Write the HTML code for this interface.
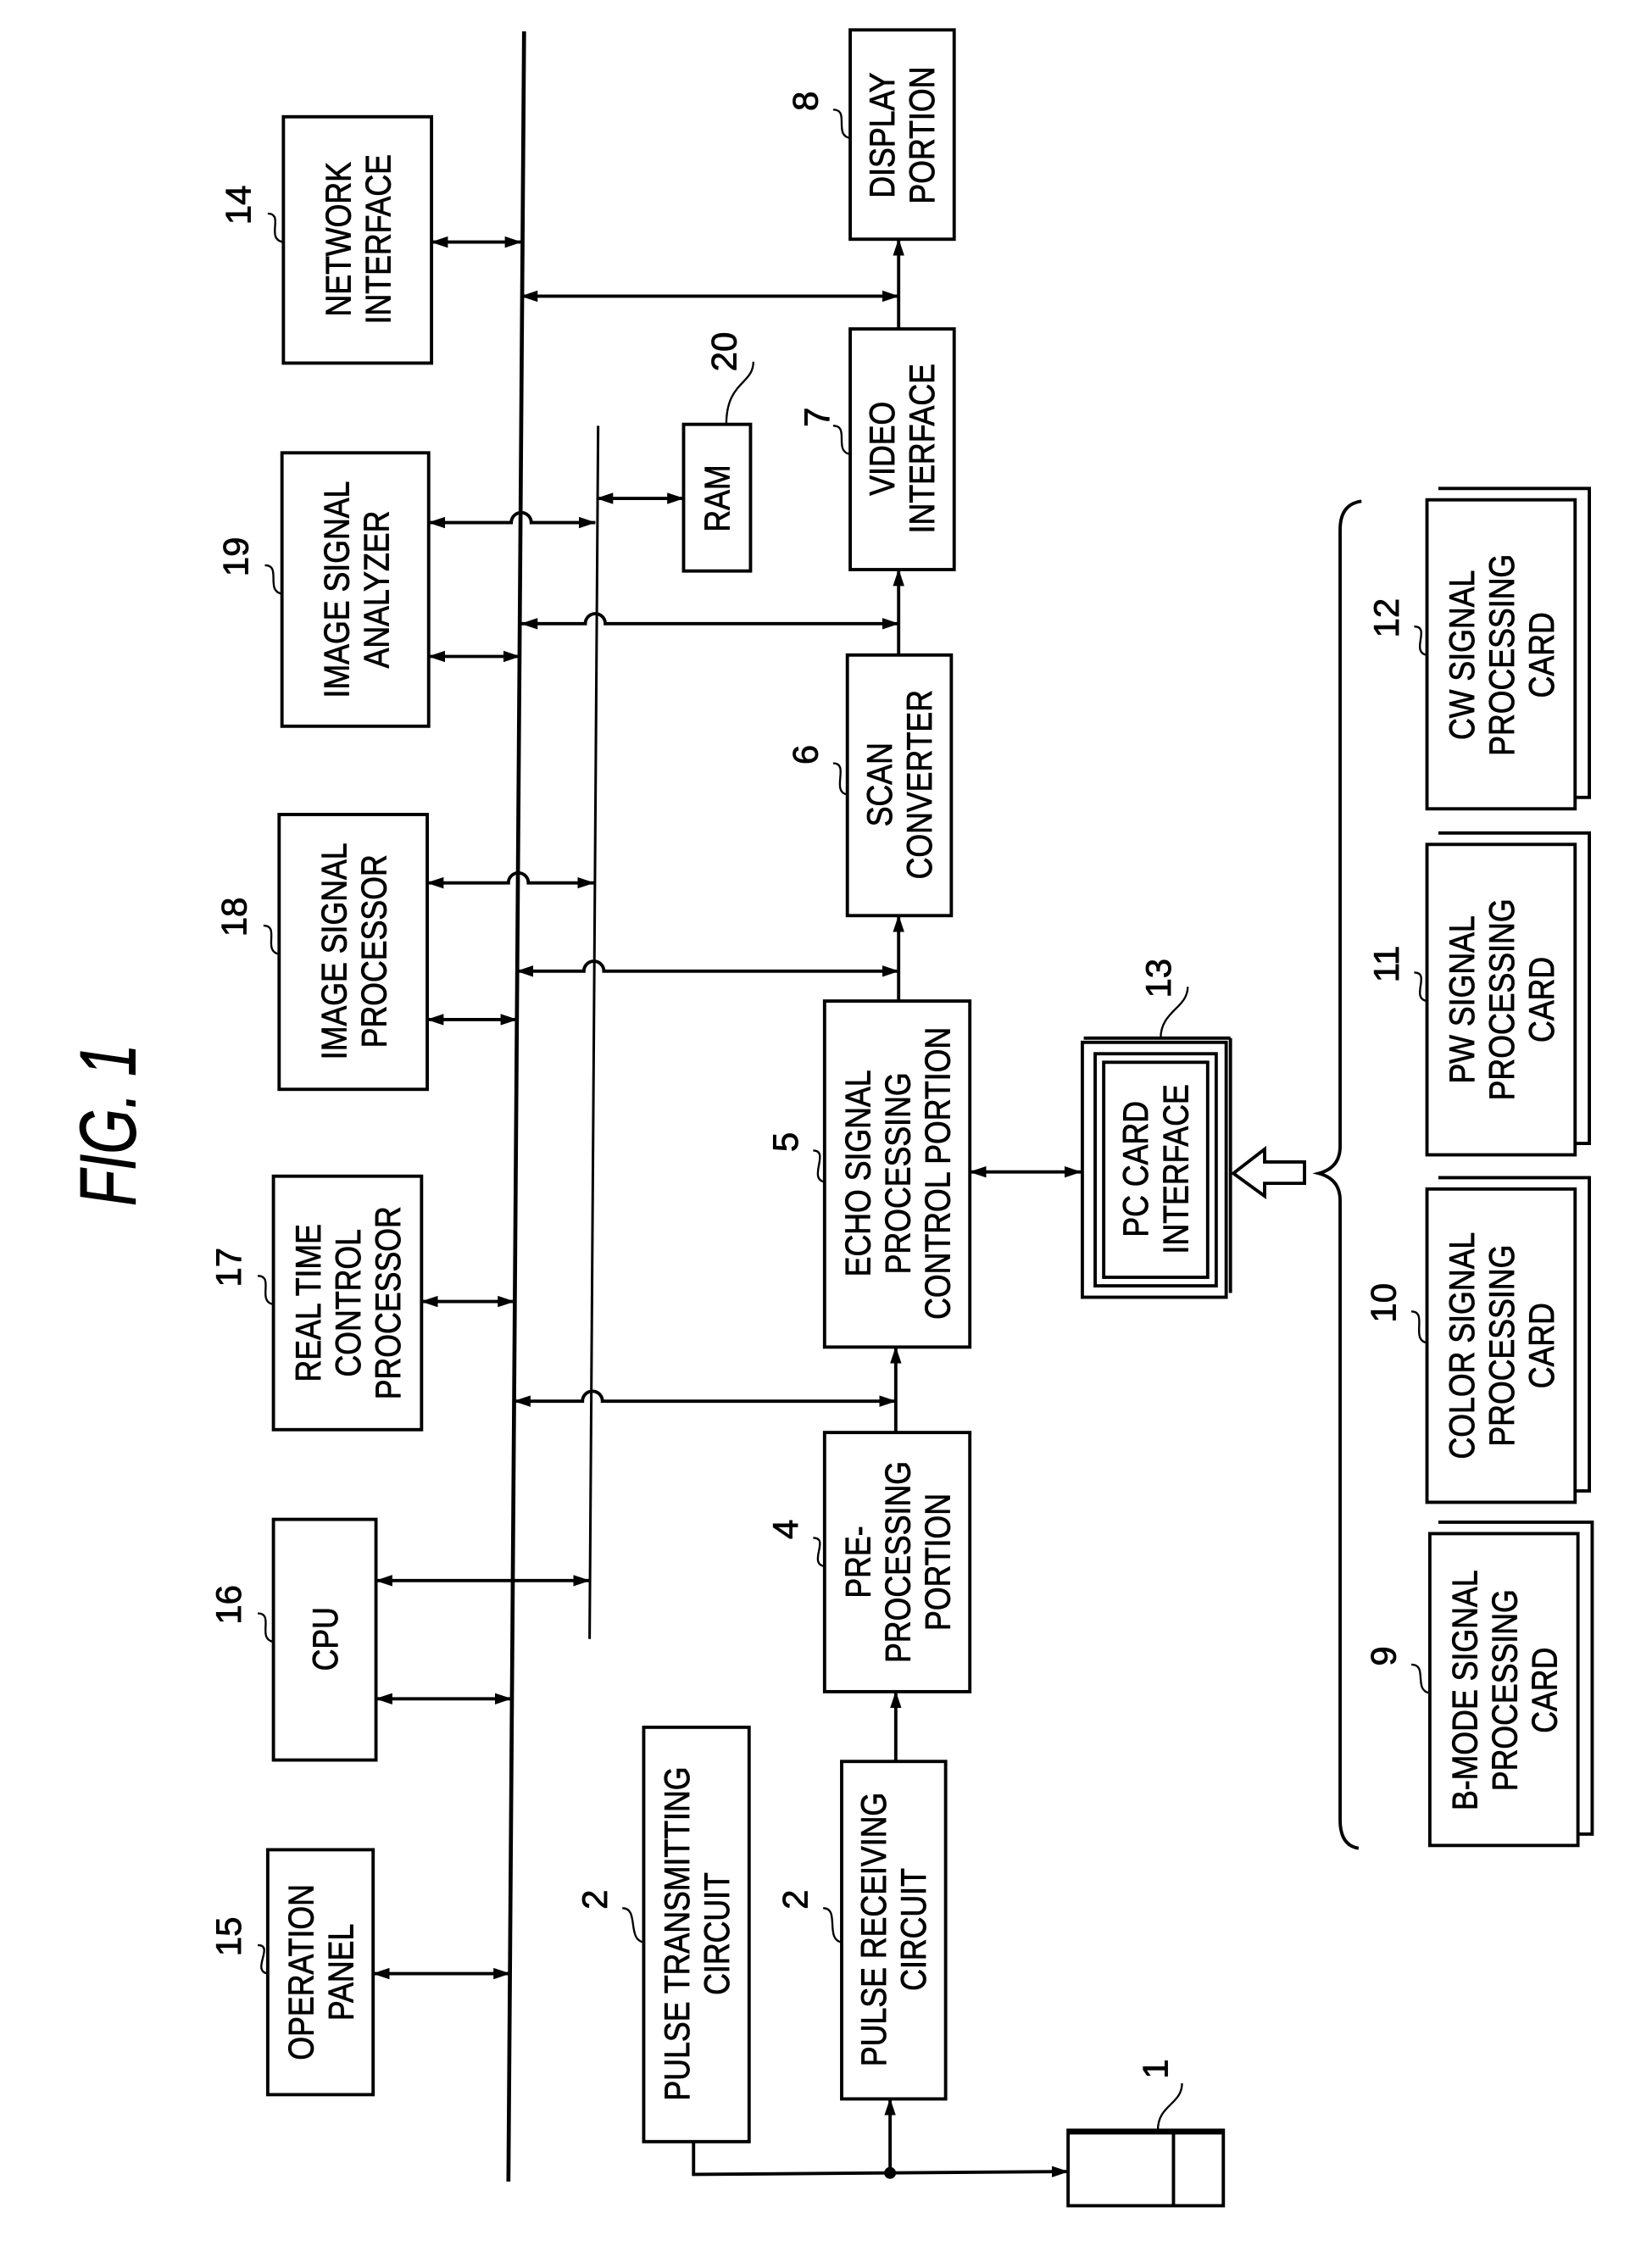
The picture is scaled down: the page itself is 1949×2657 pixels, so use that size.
<!DOCTYPE html>
<html><head><meta charset="utf-8"><style>
html,body{margin:0;padding:0;background:#fff}
svg{display:block}
text{font-family:"Liberation Sans",Arial,sans-serif;fill:#000;stroke:#000;stroke-width:0.5}
</style></head><body>
<svg width="1949" height="2657" viewBox="0 0 1160 1581.5" preserveAspectRatio="none" xmlns="http://www.w3.org/2000/svg">
<defs>
<marker id="a" viewBox="0 0 12 8" refX="11.5" refY="4" markerWidth="12" markerHeight="8" markerUnits="userSpaceOnUse" orient="auto-start-reverse"><path d="M0,0 L12,4 L0,8 Z" fill="#000"/></marker>
</defs>
<g fill="none" stroke="#000" stroke-width="2.3">
<line x1="368" y1="22" x2="357" y2="1532" stroke-width="2.8"/>
<line x1="420" y1="299" x2="414" y2="1151" stroke-width="1.8"/>

<rect x="199" y="82" width="104" height="173"/>
<rect x="198" y="318" width="103" height="192"/>
<rect x="196" y="572" width="104" height="193"/>
<rect x="192" y="826" width="104" height="178"/>
<rect x="192" y="1067" width="72" height="169"/>
<rect x="188" y="1299" width="74" height="172"/>
<rect x="597" y="21" width="73" height="147"/>
<rect x="597" y="231" width="73" height="169"/>
<rect x="480" y="298" width="47" height="103"/>
<rect x="595" y="460" width="73" height="183"/>
<rect x="579" y="703" width="102" height="243"/>
<rect x="579" y="1006" width="102" height="182"/>
<rect x="591" y="1237" width="73" height="237"/>
<rect x="452" y="1213" width="74" height="291"/>
<rect x="760" y="732" width="101" height="179"/>
<rect x="769" y="740" width="85" height="163"/>
<rect x="775" y="746" width="73" height="151"/>
<line x1="761" y1="729" x2="864" y2="729"/>
<line x1="864" y1="729" x2="864" y2="908"/>
<rect x="750" y="1496" width="109" height="53"/>
<line x1="750" y1="1497" x2="859" y2="1497" stroke-width="4"/>
<line x1="824" y1="1497" x2="824" y2="1549"/>

<g>
<path d="M1010,343 L1116,343 L1116,560 L1106,560"/><rect x="1002" y="351" width="104" height="217"/>
<path d="M1010,585 L1116,585 L1116,803 L1106,803"/><rect x="1002" y="593" width="104" height="218"/>
<path d="M1010,827 L1116,827 L1116,1047 L1106,1047"/><rect x="1002" y="835" width="104" height="220"/>
<path d="M1010,1069 L1118,1069 L1118,1288 L1108,1288"/><rect x="1004" y="1077" width="104" height="219"/>
</g>

<path d="M956,352 Q941,354 941,372 L941,805 Q941,820 926,824 Q941,828 941,843 L941,1278 Q941,1296 954,1298"/>
<path d="M866,824 L888,807 L888,816 L916,816 L916,831 L888,831 L888,840 Z"/>

<line x1="303" y1="170" x2="366" y2="170" marker-start="url(#a)" marker-end="url(#a)"/>
<line x1="366" y1="208" x2="631" y2="208" marker-start="url(#a)" marker-end="url(#a)"/>
<line x1="631" y1="231" x2="631" y2="168" marker-end="url(#a)"/>
<path d="M301,367 L359,367 A7,7 0 0 1 373,367 L418,367" marker-start="url(#a)" marker-end="url(#a)"/>
<line x1="301" y1="461" x2="365" y2="461" marker-start="url(#a)" marker-end="url(#a)"/>
<line x1="419" y1="350" x2="480" y2="350" marker-start="url(#a)" marker-end="url(#a)"/>
<path d="M366,438 L411,438 A7,7 0 0 1 425,438 L631,438" marker-start="url(#a)" marker-end="url(#a)"/>
<line x1="631" y1="460" x2="631" y2="400" marker-end="url(#a)"/>
<path d="M300,620 L357,620 A7,7 0 0 1 371,620 L417,620" marker-start="url(#a)" marker-end="url(#a)"/>
<line x1="300" y1="716" x2="363" y2="716" marker-start="url(#a)" marker-end="url(#a)"/>
<path d="M363,682 L410,682 A7,7 0 0 1 424,682 L631,682" marker-start="url(#a)" marker-end="url(#a)"/>
<line x1="631" y1="703" x2="631" y2="643" marker-end="url(#a)"/>
<line x1="296" y1="914" x2="361" y2="914" marker-start="url(#a)" marker-end="url(#a)"/>
<path d="M361,984 L409,984 A7,7 0 0 1 423,984 L629,984" marker-start="url(#a)" marker-end="url(#a)"/>
<line x1="629" y1="1006" x2="629" y2="946" marker-end="url(#a)"/>
<line x1="681" y1="823" x2="759" y2="823" marker-start="url(#a)" marker-end="url(#a)"/>
<line x1="264" y1="1110" x2="414" y2="1110" marker-start="url(#a)" marker-end="url(#a)"/>
<line x1="264" y1="1193" x2="359" y2="1193" marker-start="url(#a)" marker-end="url(#a)"/>
<line x1="262" y1="1386" x2="358" y2="1386" marker-start="url(#a)" marker-end="url(#a)"/>
<line x1="629" y1="1237" x2="629" y2="1188" marker-end="url(#a)"/>
<path d="M487,1504 L487,1527 L750,1525" marker-end="url(#a)"/>
<line x1="625" y1="1526" x2="625" y2="1474" marker-end="url(#a)"/>
<circle cx="625" cy="1526" r="3" fill="#000"/>

<g stroke-width="1.4">
<path d="M188,150 C200,150 186,168 199,170"/>
<path d="M186,397 C198,397 186,415 198,417"/>
<path d="M185,650 C197,650 184,668 196,670"/>
<path d="M181,896 C193,896 180,914 192,916"/>
<path d="M181,1133 C193,1133 180,1151 192,1153"/>
<path d="M181,1366 C193,1366 176,1384 188,1386"/>
<path d="M529,254 C529,270 510,268 510,298"/>
<path d="M585,77 C597,77 585,95 597,97"/>
<path d="M585,299 C597,299 585,317 597,319"/>
<path d="M585,536 C597,536 583,556 595,558"/>
<path d="M571,808 C583,808 567,828 579,830"/>
<path d="M571,1080 C583,1080 567,1098 579,1100"/>
<path d="M437,1340 C449,1340 440,1362 452,1364"/>
<path d="M578,1340 C590,1340 579,1362 591,1364"/>
<path d="M834,693 C834,708 815,710 815,729"/>
<path d="M830,1463 C830,1478 813,1478 813,1496"/>
<path d="M993,440 C1005,440 990,458 1002,460"/>
<path d="M993,683 C1005,683 990,701 1002,703"/>
<path d="M991,921 C1003,921 990,941 1002,943"/>
<path d="M991,1169 C1003,1169 992,1187 1004,1189"/>
</g>
</g>

<text transform="translate(95,790) rotate(-90)" text-anchor="middle" font-size="56" font-style="italic" textLength="114" lengthAdjust="spacingAndGlyphs">FIG. 1</text>

<g font-size="25" text-anchor="middle">
<g transform="translate(251,168) rotate(-90) scale(0.85,1)"><text y="-5">NETWORK</text><text y="23">INTERFACE</text></g>
<g transform="translate(250,414) rotate(-90) scale(0.85,1)"><text y="-5">IMAGE SIGNAL</text><text y="23">ANALYZER</text></g>
<g transform="translate(248,668) rotate(-90) scale(0.85,1)"><text y="-5">IMAGE SIGNAL</text><text y="23">PROCESSOR</text></g>
<g transform="translate(244,915) rotate(-90) scale(0.85,1)"><text y="-19">REAL TIME</text><text y="9">CONTROL</text><text y="37">PROCESSOR</text></g>
<g transform="translate(228,1151) rotate(-90) scale(0.85,1)"><text y="9">CPU</text></g>
<g transform="translate(225,1385) rotate(-90) scale(0.85,1)"><text y="-5">OPERATION</text><text y="23">PANEL</text></g>
<g transform="translate(633,95) rotate(-90) scale(0.85,1)"><text y="-5">DISPLAY</text><text y="23">PORTION</text></g>
<g transform="translate(633,315) rotate(-90) scale(0.85,1)"><text y="-5">VIDEO</text><text y="23">INTERFACE</text></g>
<g transform="translate(503,350) rotate(-90) scale(0.85,1)"><text y="9">RAM</text></g>
<g transform="translate(631,551) rotate(-90) scale(0.85,1)"><text y="-5">SCAN</text><text y="23">CONVERTER</text></g>
<g transform="translate(630,824) rotate(-90) scale(0.85,1)"><text y="-19">ECHO SIGNAL</text><text y="9">PROCESSING</text><text y="37">CONTROL PORTION</text></g>
<g transform="translate(630,1097) rotate(-90) scale(0.85,1)"><text y="-19">PRE-</text><text y="9">PROCESSING</text><text y="37">PORTION</text></g>
<g transform="translate(627,1355) rotate(-90) scale(0.85,1)"><text y="-5">PULSE RECEIVING</text><text y="23">CIRCUIT</text></g>
<g transform="translate(489,1358) rotate(-90) scale(0.85,1)"><text y="-5">PULSE TRANSMITTING</text><text y="23">CIRCUIT</text></g>
<g transform="translate(811,821) rotate(-90) scale(0.85,1)"><text y="-5">PC CARD</text><text y="23">INTERFACE</text></g>
<g transform="translate(1054,460) rotate(-90) scale(0.85,1)"><text y="-19">CW SIGNAL</text><text y="9">PROCESSING</text><text y="37">CARD</text></g>
<g transform="translate(1054,702) rotate(-90) scale(0.85,1)"><text y="-19">PW SIGNAL</text><text y="9">PROCESSING</text><text y="37">CARD</text></g>
<g transform="translate(1054,945) rotate(-90) scale(0.85,1)"><text y="-19">COLOR SIGNAL</text><text y="9">PROCESSING</text><text y="37">CARD</text></g>
<g transform="translate(1056,1187) rotate(-90) scale(0.85,1)"><text y="-19">B-MODE SIGNAL</text><text y="9">PROCESSING</text><text y="37">CARD</text></g>
</g>

<g font-size="25" text-anchor="middle">
<text transform="translate(176,144) rotate(-90)">14</text>
<text transform="translate(174,391) rotate(-90)">19</text>
<text transform="translate(173,644) rotate(-90)">18</text>
<text transform="translate(169,890) rotate(-90)">17</text>
<text transform="translate(169,1127) rotate(-90)">16</text>
<text transform="translate(169,1360) rotate(-90)">15</text>
<text transform="translate(517,247) rotate(-90)">20</text>
<text transform="translate(582,293) rotate(-90)">7</text>
<text transform="translate(574,71) rotate(-90)">8</text>
<text transform="translate(574,530) rotate(-90)">6</text>
<text transform="translate(560,802) rotate(-90)">5</text>
<text transform="translate(560,1074) rotate(-90)">4</text>
<text transform="translate(426,1334) rotate(-90)">2</text>
<text transform="translate(567,1334) rotate(-90)">2</text>
<text transform="translate(822,687) rotate(-90)">13</text>
<text transform="translate(820,1453) rotate(-90)">1</text>
<text transform="translate(982,434) rotate(-90)">12</text>
<text transform="translate(982,677) rotate(-90)">11</text>
<text transform="translate(980,915) rotate(-90)">10</text>
<text transform="translate(980,1163) rotate(-90)">9</text>
</g>
</svg>
</body></html>
